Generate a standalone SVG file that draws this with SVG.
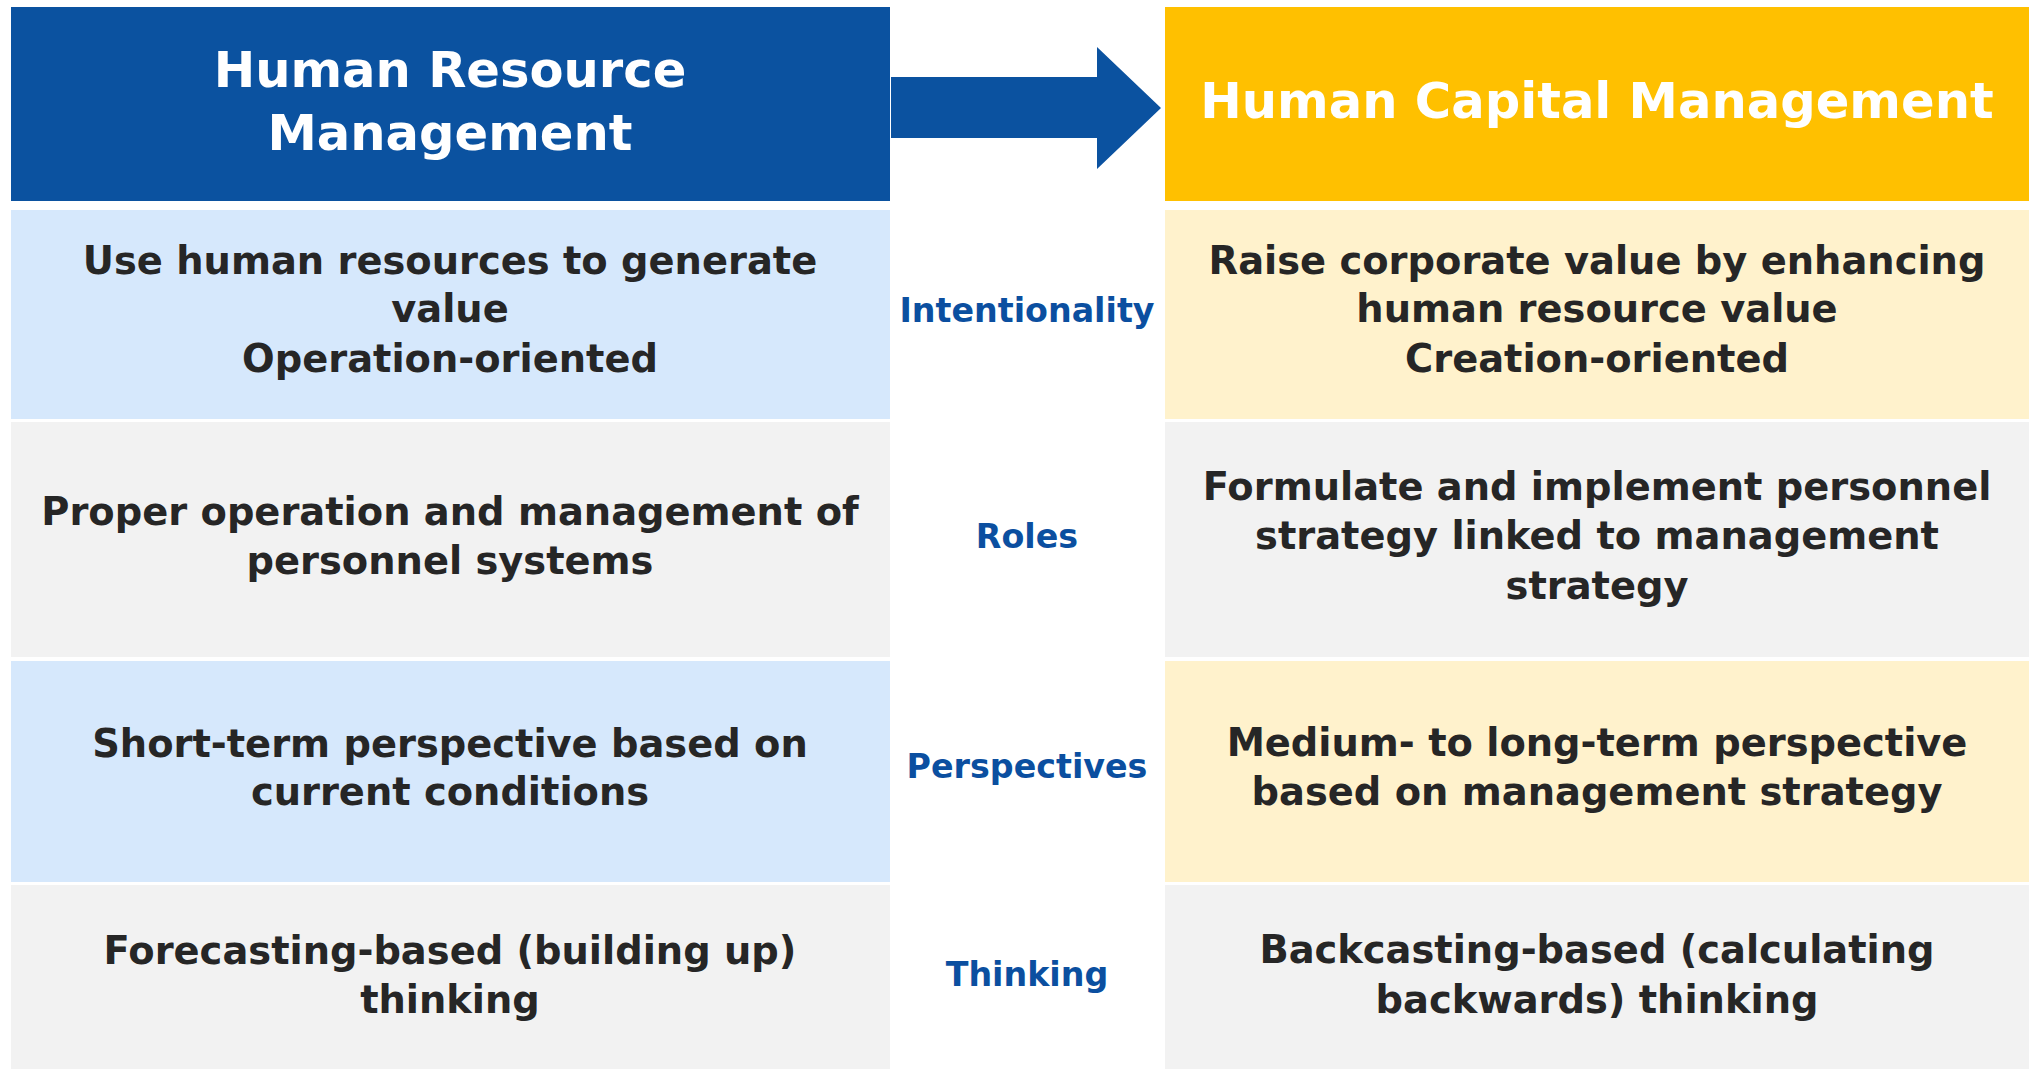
<svg xmlns="http://www.w3.org/2000/svg" width="2031" height="1069" viewBox="0 0 2031 1069">
<style>
.hdr{font-family:"DejaVu Sans","Noto Sans",sans-serif;font-weight:bold;font-size:49.6px;fill:#ffffff;text-anchor:middle}
.body{font-family:"DejaVu Sans","Noto Sans",sans-serif;font-weight:bold;font-size:38.4px;fill:#262626;text-anchor:middle}
.lbl{font-family:"DejaVu Sans","Noto Sans",sans-serif;font-weight:bold;font-size:33.3px;fill:#0b4fa0;text-anchor:middle}
.blue{fill:#0b52a0}
.yel{fill:#ffc000}
.lb{fill:#d6e8fc}
.ly{fill:#fff2cc}
.gr{fill:#f2f2f2}
</style>
<rect width="2031" height="1069" fill="#ffffff"/>
<g id="hrm-header">
<rect class="blue" x="11" y="7" width="879" height="194"/>
<text class="hdr" x="450" y="87">Human Resource</text>
<text class="hdr" x="450" y="150">Management</text>
</g>
<g id="hcm-header">
<rect class="yel" x="1165" y="7" width="864" height="194"/>
<text class="hdr" x="1597" y="118">Human Capital Management</text>
</g>
<g id="connectors">
<polygon class="blue" points="891,77 1097,77 1097,47 1161,108 1097,169 1097,138 891,138"/>
</g>
<g id="hrm-intentionality">
<rect class="lb" x="11" y="210" width="879" height="209"/>
<text class="body" x="450" y="274">Use human resources to generate</text>
<text class="body" x="450" y="322">value</text>
<text class="body" x="450" y="372">Operation-oriented</text>
</g>
<g id="label-intentionality"><text class="lbl" x="1027" y="322">Intentionality</text></g>
<g id="hcm-intentionality">
<rect class="ly" x="1165" y="210" width="864" height="209"/>
<text class="body" x="1597" y="274">Raise corporate value by enhancing</text>
<text class="body" x="1597" y="322">human resource value</text>
<text class="body" x="1597" y="372">Creation-oriented</text>
</g>
<g id="hrm-roles">
<rect class="gr" x="11" y="422" width="879" height="235"/>
<text class="body" x="450" y="525">Proper operation and management of</text>
<text class="body" x="450" y="574">personnel systems</text>
</g>
<g id="label-roles"><text class="lbl" x="1027" y="548">Roles</text></g>
<g id="hcm-roles">
<rect class="gr" x="1165" y="422" width="864" height="235"/>
<text class="body" x="1597" y="500">Formulate and implement personnel</text>
<text class="body" x="1597" y="549">strategy linked to management</text>
<text class="body" x="1597" y="599">strategy</text>
</g>
<g id="hrm-perspectives">
<rect class="lb" x="11" y="661" width="879" height="221"/>
<text class="body" x="450" y="757">Short-term perspective based on</text>
<text class="body" x="450" y="805">current conditions</text>
</g>
<g id="label-perspectives"><text class="lbl" x="1027" y="778">Perspectives</text></g>
<g id="hcm-perspectives">
<rect class="ly" x="1165" y="661" width="864" height="221"/>
<text class="body" x="1597" y="756">Medium- to long-term perspective</text>
<text class="body" x="1597" y="805">based on management strategy</text>
</g>
<g id="hrm-thinking">
<rect class="gr" x="11" y="885" width="879" height="184"/>
<text class="body" x="450" y="964">Forecasting-based (building up)</text>
<text class="body" x="450" y="1013">thinking</text>
</g>
<g id="label-thinking"><text class="lbl" x="1027" y="986">Thinking</text></g>
<g id="hcm-thinking">
<rect class="gr" x="1165" y="885" width="864" height="184"/>
<text class="body" x="1597" y="963">Backcasting-based (calculating</text>
<text class="body" x="1597" y="1013">backwards) thinking</text>
</g>
</svg>
